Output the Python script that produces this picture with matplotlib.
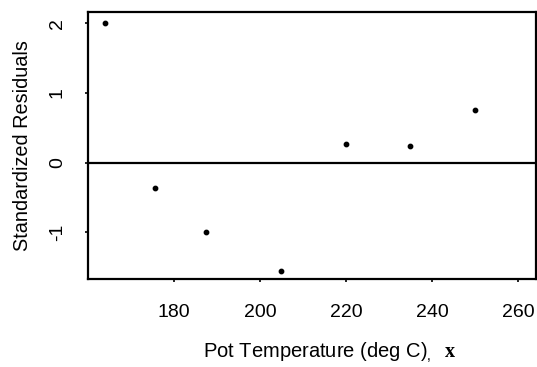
import numpy as np
import matplotlib.pyplot as plt

# data
temp = [164, 175.5, 187.5, 205, 220, 235, 250]
std_resid = [2.0, -0.37, -1.0, -1.56, 0.26, 0.24, 0.75]

xticks = [180, 200, 220, 240, 260]
yticks = [-1, 0, 1, 2]

plt.rcParams['font.family'] = ['Liberation Sans', 'DejaVu Sans']
plt.rcParams['axes.unicode_minus'] = False
plt.rcParams['mathtext.fontset'] = 'custom'
plt.rcParams['mathtext.rm'] = 'Liberation Sans'
plt.rcParams['mathtext.bf'] = 'Liberation Serif:bold'

fig = plt.figure(figsize=(5.37, 3.67), dpi=100)
ax = fig.add_axes([0.164, 0.240, 0.834, 0.727])

ax.scatter(temp, std_resid, s=10, color='black', zorder=3)
ax.axhline(0, color='black', linewidth=1.6)

ax.set_xlim(160, 264.2)
ax.set_ylim(-1.67, 2.16)
ax.set_xticks(xticks)
ax.set_yticks(yticks)
ax.tick_params(axis='x', length=2, width=1.2, labelsize=14, pad=16)
ax.tick_params(axis='y', length=2, width=1.2, labelsize=14, pad=14)
for lbl in ax.get_yticklabels():
    lbl.set_rotation(90)
    lbl.set_va('center')

for s in ax.spines.values():
    s.set_linewidth(1.6)

ax.set_xlabel(r"Pot Temperature (deg C)$_{,}\ \ \mathbf{x}$", fontsize=14.5)
ax.xaxis.set_label_coords(0.539, -0.232)
ax.set_ylabel("Standardized Residuals", fontsize=14.3, labelpad=12)

fig.savefig("out.png", dpi=100)
